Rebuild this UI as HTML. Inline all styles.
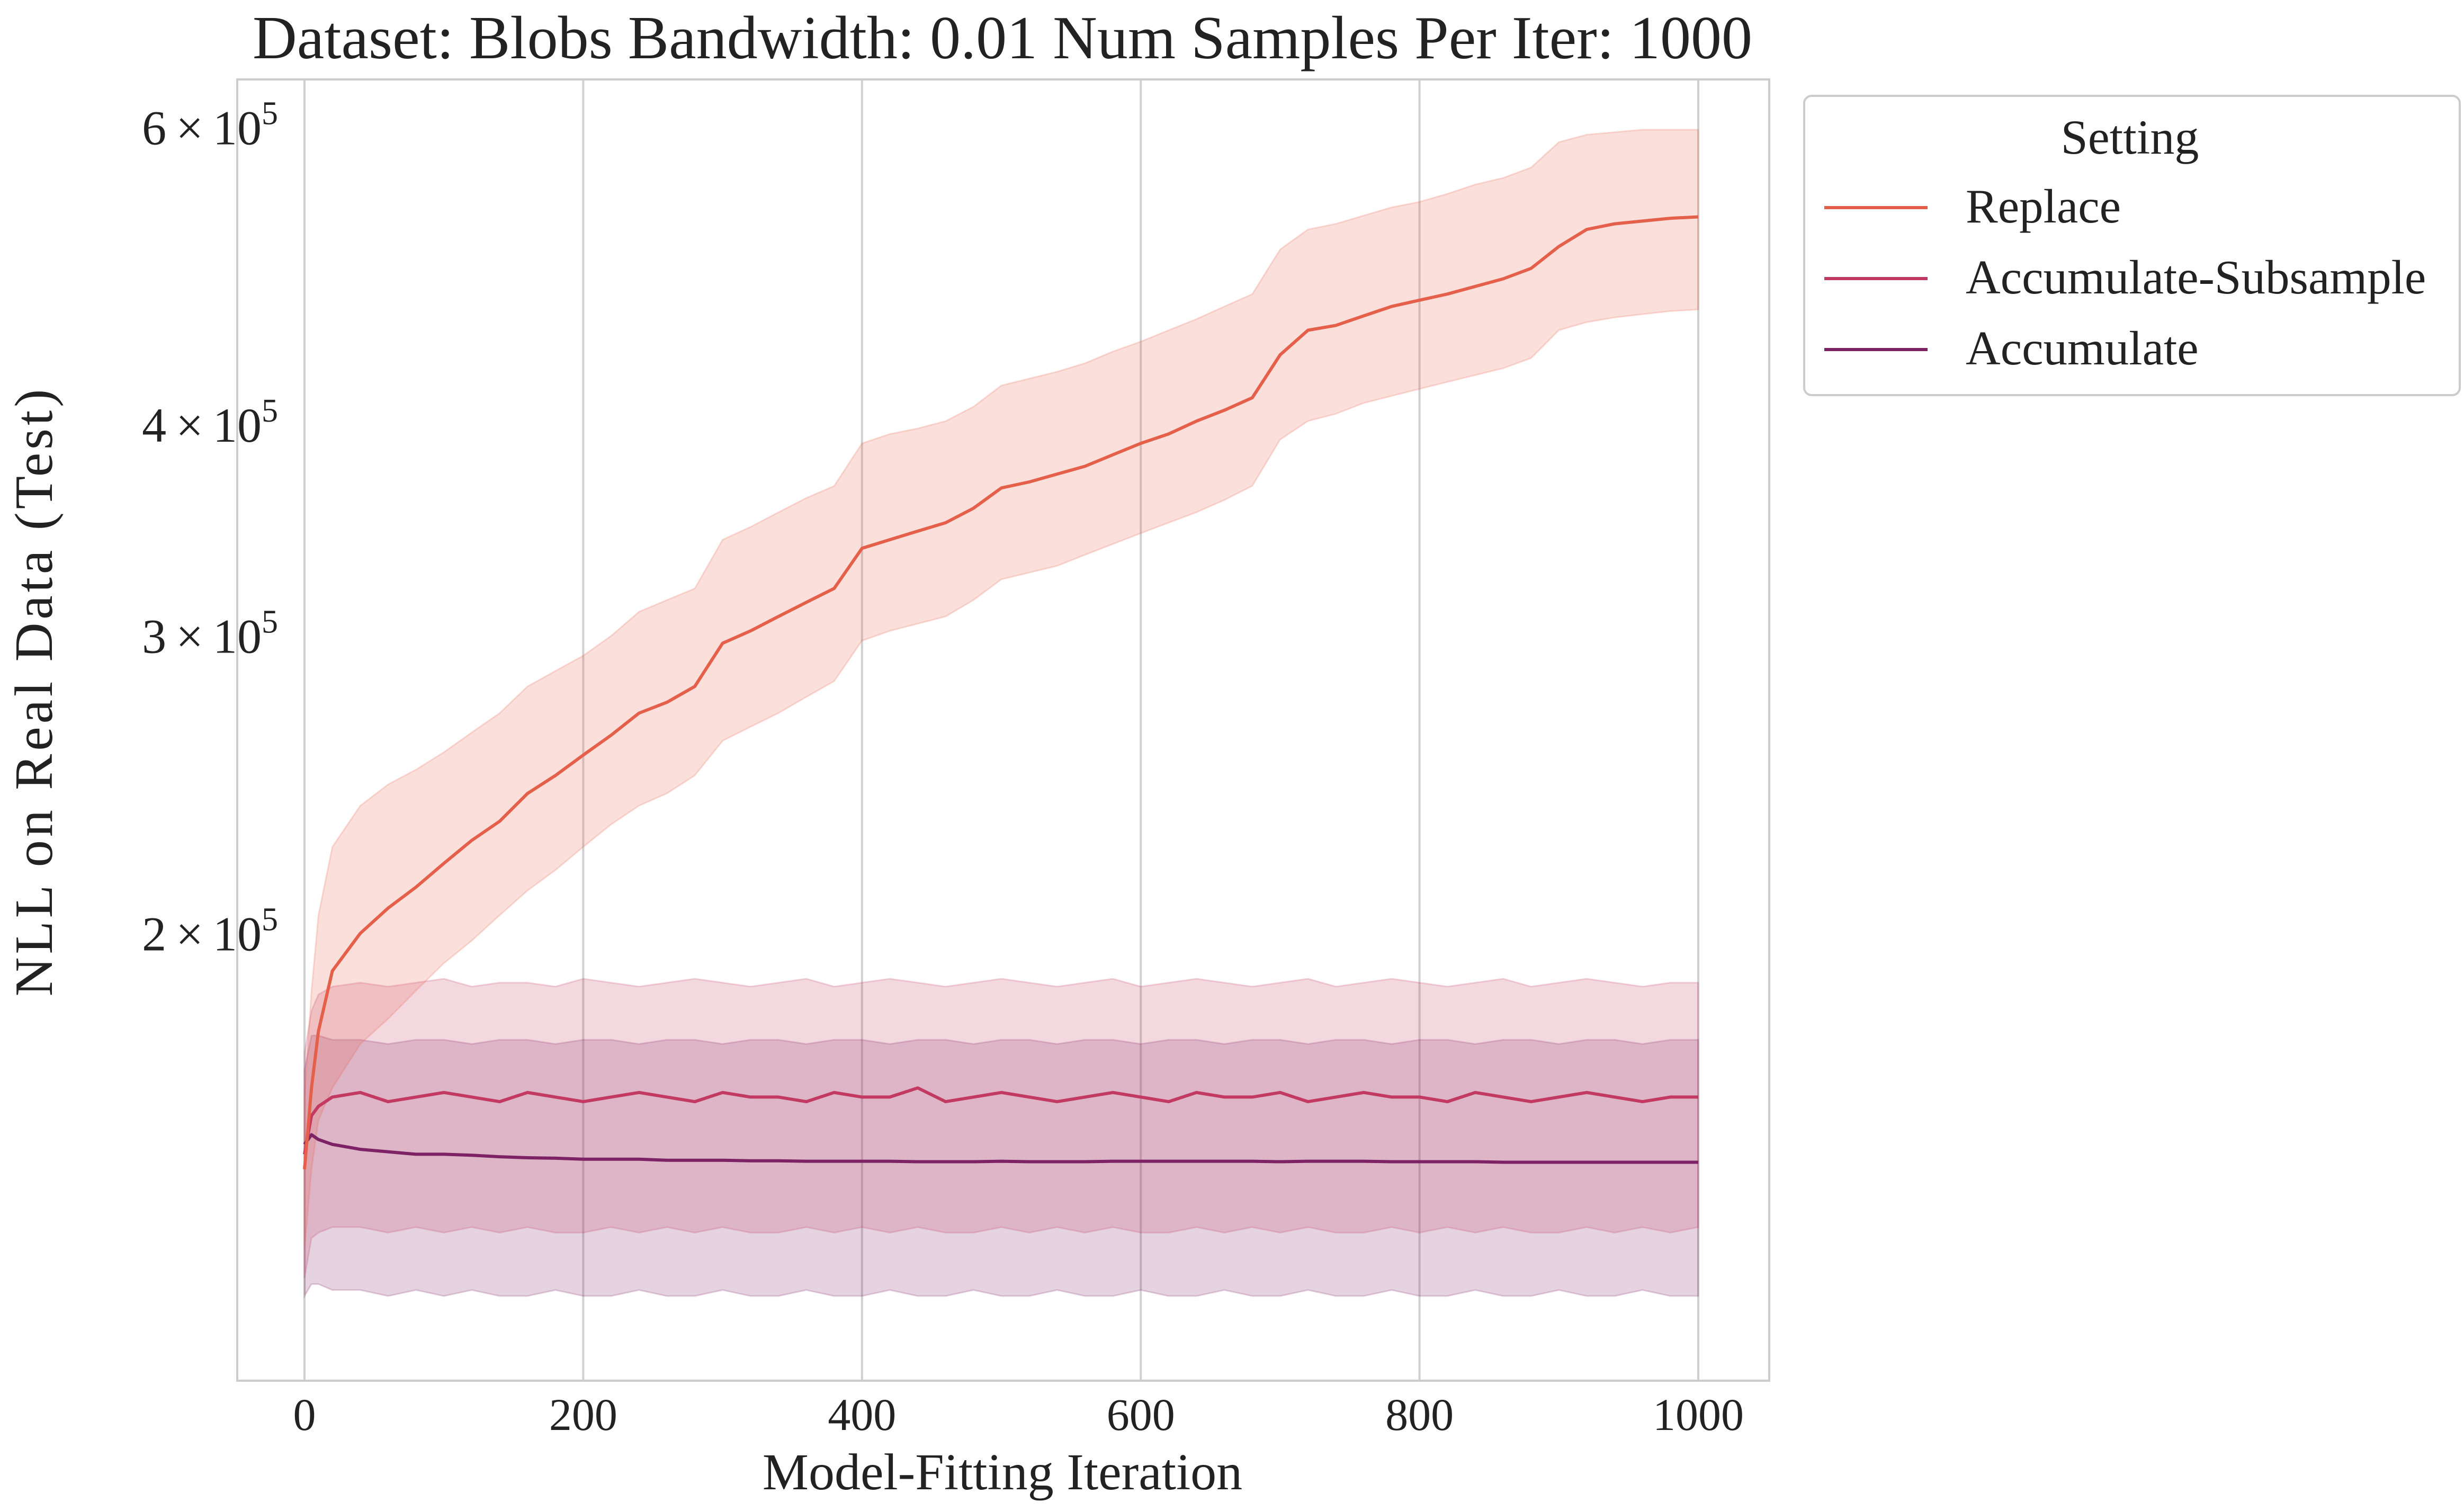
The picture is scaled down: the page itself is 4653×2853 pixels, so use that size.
<!DOCTYPE html>
<html><head><meta charset="utf-8">
<style>
html,body{margin:0;padding:0;background:#fff;}
svg{display:block;font-family:"Liberation Serif",serif;}
</style></head>
<body>
<svg id="chart" width="4653" height="2853" viewBox="0 0 4653 2853" xmlns="http://www.w3.org/2000/svg">
<rect width="4653" height="2853" fill="#fff"/>
<text x="1893" y="110" font-size="116" text-anchor="middle" fill="#222">Dataset: Blobs Bandwidth: 0.01 Num Samples Per Iter: 1000</text>
<g id="grid"></g>
<g id="bands"></g>
<g id="lines"></g>
<rect x="448" y="150" width="2893" height="2457" fill="none" stroke="#cccccc" stroke-width="4"/>
<g id="xticks"></g>
<g id="yticks"></g>
<text x="1893" y="2812" font-size="98" text-anchor="middle" fill="#222">Model-Fitting Iteration</text>
<text transform="translate(98,1305) rotate(-90)" font-size="102" letter-spacing="6" text-anchor="middle" fill="#222">NLL on Real Data (Test)</text>
<g>
<rect x="3407" y="181" width="1238" height="565" rx="14" fill="#fff" stroke="#cccccc" stroke-width="4"/>
<text x="4022" y="290" font-size="92" text-anchor="middle" fill="#222">Setting</text>
<line x1="3445" y1="392" x2="3640" y2="392" stroke="#e5604a" stroke-width="6"/>
<text x="3712" y="420" font-size="91" fill="#222">Replace</text>
<line x1="3445" y1="526" x2="3640" y2="526" stroke="#c23a62" stroke-width="6"/>
<text x="3712" y="554" font-size="91" fill="#222">Accumulate-Subsample</text>
<line x1="3445" y1="660" x2="3640" y2="660" stroke="#7d2365" stroke-width="6"/>
<text x="3712" y="688" font-size="91" fill="#222">Accumulate</text>
</g>
</svg>
<script>
const iters = [0,5,10,20,40,60,80,100,120,140,160,180,200,220,240,260,280,300,320,340,360,380,400,420,440,460,480,500,520,540,560,580,600,620,640,660,680,700,720,740,760,780,800,820,840,860,880,900,920,940,960,980,1000];
const replaceMean = [1.45,1.62,1.75,1.90,2.00,2.07,2.13,2.20,2.27,2.33,2.42,2.48,2.55,2.62,2.70,2.74,2.80,2.97,3.02,3.08,3.14,3.20,3.38,3.42,3.46,3.50,3.57,3.67,3.70,3.74,3.78,3.84,3.90,3.95,4.02,4.08,4.15,4.40,4.55,4.58,4.64,4.70,4.74,4.78,4.83,4.88,4.95,5.10,5.22,5.26,5.28,5.30,5.31];
const replaceUpper = [1.60,1.85,2.05,2.25,2.38,2.45,2.50,2.56,2.63,2.70,2.80,2.86,2.92,3.00,3.10,3.15,3.20,3.42,3.48,3.55,3.62,3.68,3.90,3.95,3.98,4.02,4.10,4.22,4.26,4.30,4.35,4.42,4.48,4.55,4.62,4.70,4.78,5.08,5.22,5.26,5.32,5.38,5.42,5.48,5.55,5.60,5.68,5.88,5.94,5.96,5.98,5.98,5.98];
const replaceLower = [1.30,1.45,1.55,1.62,1.72,1.78,1.85,1.92,1.98,2.05,2.12,2.18,2.25,2.32,2.38,2.42,2.48,2.60,2.65,2.70,2.76,2.82,2.98,3.02,3.05,3.08,3.15,3.24,3.27,3.30,3.35,3.40,3.45,3.50,3.55,3.61,3.68,3.92,4.02,4.06,4.12,4.16,4.20,4.24,4.28,4.32,4.38,4.55,4.60,4.63,4.65,4.67,4.68];
const subMean = [1.48,1.56,1.58,1.60,1.61,1.59,1.60,1.61,1.60,1.59,1.61,1.60,1.59,1.60,1.61,1.60,1.59,1.61,1.60,1.60,1.59,1.61,1.60,1.60,1.62,1.59,1.60,1.61,1.60,1.59,1.60,1.61,1.60,1.59,1.61,1.60,1.60,1.61,1.59,1.60,1.61,1.60,1.60,1.59,1.61,1.60,1.59,1.60,1.61,1.60,1.59,1.60,1.60];
const subUpper = [1.70,1.80,1.84,1.86,1.87,1.86,1.87,1.88,1.86,1.87,1.87,1.86,1.88,1.87,1.86,1.87,1.88,1.87,1.86,1.87,1.88,1.86,1.87,1.88,1.87,1.86,1.87,1.88,1.87,1.86,1.87,1.88,1.86,1.87,1.88,1.87,1.86,1.87,1.88,1.86,1.87,1.88,1.87,1.86,1.87,1.88,1.86,1.87,1.88,1.87,1.86,1.87,1.87];
const subLower = [1.25,1.32,1.33,1.34,1.34,1.33,1.34,1.33,1.34,1.33,1.34,1.33,1.33,1.34,1.33,1.34,1.33,1.34,1.33,1.33,1.34,1.33,1.34,1.33,1.34,1.33,1.33,1.34,1.33,1.34,1.33,1.34,1.33,1.33,1.34,1.33,1.34,1.33,1.34,1.33,1.33,1.34,1.33,1.34,1.33,1.34,1.33,1.33,1.34,1.33,1.34,1.33,1.34];
const accMean = [1.50,1.52,1.51,1.50,1.49,1.485,1.48,1.48,1.478,1.475,1.473,1.472,1.47,1.47,1.47,1.468,1.468,1.468,1.467,1.467,1.466,1.466,1.466,1.466,1.465,1.465,1.465,1.466,1.465,1.465,1.465,1.466,1.466,1.466,1.466,1.466,1.466,1.465,1.466,1.466,1.466,1.465,1.465,1.465,1.465,1.464,1.464,1.464,1.464,1.464,1.464,1.464,1.464];
const accUpper = [1.66,1.74,1.74,1.73,1.73,1.72,1.73,1.73,1.72,1.73,1.73,1.72,1.73,1.73,1.72,1.73,1.73,1.72,1.73,1.73,1.72,1.73,1.73,1.72,1.73,1.73,1.72,1.73,1.73,1.72,1.73,1.73,1.72,1.73,1.73,1.72,1.73,1.73,1.72,1.73,1.73,1.72,1.73,1.73,1.72,1.73,1.73,1.72,1.73,1.73,1.72,1.73,1.73];
const accLower = [1.22,1.24,1.24,1.23,1.23,1.22,1.23,1.22,1.23,1.22,1.22,1.23,1.22,1.22,1.23,1.22,1.22,1.23,1.22,1.22,1.23,1.22,1.22,1.23,1.22,1.22,1.23,1.22,1.22,1.23,1.22,1.22,1.23,1.22,1.22,1.23,1.22,1.22,1.23,1.22,1.22,1.23,1.22,1.22,1.23,1.22,1.22,1.23,1.22,1.22,1.23,1.22,1.22];
const xTicks = [0,200,400,600,800,1000];
const yTicks = [2,3,4,6];
const yTickLabels = ["2","3","4","6"];

const NS = "http://www.w3.org/2000/svg";
function xPix(v){ return 575 + (v/1000)*(3207-575); }
function yPix(v){ return 802 - 3190*Math.log10(v/4); }
function mk(tag, attrs, parent){
  const e = document.createElementNS(NS, tag);
  for (const k in attrs) e.setAttribute(k, attrs[k]);
  parent.appendChild(e); return e;
}
const grid = document.getElementById('grid');
const xt = document.getElementById('xticks');
xTicks.forEach(t=>{
  const l = mk('line',{x1:xPix(t),x2:xPix(t),y1:150,y2:2607,stroke:'#d0d0d0','stroke-width':4},grid);
  
  
  const tx = mk('text',{x:xPix(t),y:2700,'font-size':86,'text-anchor':'middle',fill:'#222'},xt);
  tx.textContent = String(t);
  
  
});
const yt = document.getElementById('yticks');
yTicks.forEach((t,i)=>{
  const tx = mk('text',{x:525,y:yPix(t)+32,'font-size':92,'text-anchor':'end',fill:'#222'},yt);
  tx.innerHTML = yTickLabels[i] + '<tspan dx="18">×</tspan><tspan dx="18">10</tspan><tspan dy="-38" font-size="62">5</tspan>';
  
  
});
function band(lo, hi, fill, op, name){
  let d = '';
  iters.forEach((it,i)=>{ d += (i?'L':'M') + xPix(it).toFixed(1) + ',' + yPix(hi[i]).toFixed(1); });
  for (let i=iters.length-1;i>=0;i--) d += 'L' + xPix(iters[i]).toFixed(1) + ',' + yPix(lo[i]).toFixed(1);
  const p = mk('path',{d:d+'Z',fill:fill,'fill-opacity':op,stroke:fill,'stroke-opacity':op,'stroke-width':3},document.getElementById('bands'));
  
  
}
function line(vals, col, name){
  let d='';
  iters.forEach((it,i)=>{ d += (i?'L':'M') + xPix(it).toFixed(1) + ',' + yPix(vals[i]).toFixed(1); });
  const p = mk('path',{d:d,fill:'none',stroke:col,'stroke-width':6,'stroke-linejoin':'round'},document.getElementById('lines'));
  
  
}
band(accLower, accUpper, '#7d2365', 0.2, 'accumulate-band');
band(subLower, subUpper, '#c23a62', 0.2, 'accumulate-subsample-band');
band(replaceLower, replaceUpper, '#e5604a', 0.2, 'replace-band');
line(accMean, '#7d2365', 'accumulate-line');
line(subMean, '#c23a62', 'accumulate-subsample-line');
line(replaceMean, '#e5604a', 'replace-line');
</script>
</body></html>
